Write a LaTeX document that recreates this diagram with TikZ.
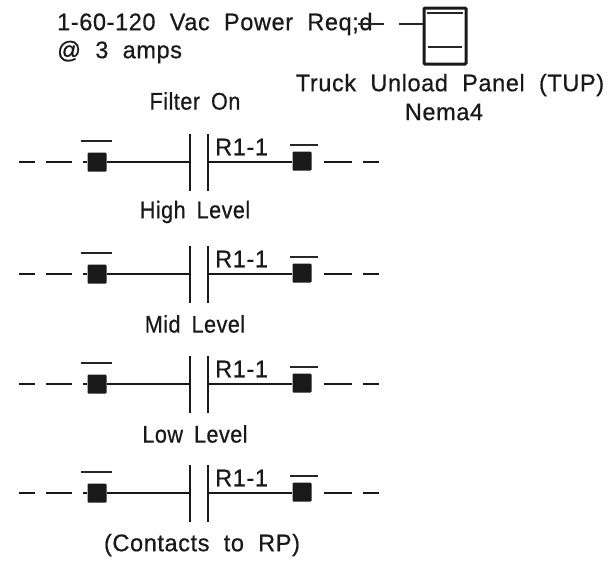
\documentclass[tikz,border=0pt]{standalone}
\usepackage{fontspec}
\setmainfont[FakeStretch=0.98,LetterSpace=2.5,WordSpace=2,FakeBold=0.6]{Liberation Sans}
\newfontfamily\narrowface[FakeStretch=0.9,LetterSpace=2,WordSpace=1.7,FakeBold=0.6]{Liberation Sans}
\tikzset{
  x=1pt,y=-1pt,
  lbl/.style={inner sep=0pt,font=\fontsize{24}{24}\selectfont,text=black!90},
  lvl/.style={inner sep=0pt,font=\narrowface\fontsize{24}{24}\selectfont,text=black!90},
  wire/.style={line width=1.9pt,black!90},
  thinw/.style={line width=1.3pt,black!85},
  plate/.style={line width=2.4pt,black!90},
  term/.style={fill=black!90,draw=none,rounded corners=1pt,minimum width=19pt,minimum height=19pt,inner sep=0pt},
}
\begin{document}
\begin{tikzpicture}
\useasboundingbox (0,0) rectangle (608,571);
\node[lbl,anchor=west] (power) at (57,24) {1-60-120 Vac Power Req;d};
\node[lbl,anchor=west] (amps) at (57,52) {@ 3 amps};
\node[lbl] (tup) at (450,85) {Truck Unload Panel (TUP)};
\node[lbl] (nema) at (444,112) {Nema4};
\node[lvl] (filter) at (195,101) {Filter On};
\node[lvl] (high) at (195,212) {High Level};
\node[lvl] (mid) at (195,324) {Mid Level};
\node[lvl] (low) at (195,434) {Low Level};
\node[lbl] (contacts) at (202,545) {(Contacts to RP)};
% panel
\node[draw=black!90,line width=3pt,minimum width=42pt,minimum height=56pt,inner sep=0pt,rounded corners=1pt] (panel) at (445,36) {};
\draw[thinw] (427,13) -- (463,13);
\draw[thinw] (428,47) -- (462,47);
\coordinate (pa) at (358,24);
\draw[thinw,dash pattern=on 26pt off 15pt] (pa) -- (panel.west |- pa);
% contact rows
\foreach \n/\y in {a/162,b/274,c/384,d/493}{
  \node[term] (l\n) at (97,\y) {};
  \node[term] (r\n) at (302,\y-1) {};
  \coordinate (pl\n) at (190,\y);
  \coordinate (pr\n) at (208,\y);
  \draw[wire] (l\n) -- (pl\n);
  \draw[wire] (pr\n) -- (r\n.west |- pr\n);
  \draw[plate] (190,\y-28) -- (190,\y+29);
  \draw[plate] (208,\y-28) -- (208,\y+29);
  \node[lbl,anchor=west] (t\n) at (215,\y-15) {R1-1};
  \coordinate (la\n) at (19,\y);
  \coordinate (ra\n) at (381,\y);
  \draw[wire,dash pattern=on 16pt off 11pt on 26pt off 11pt on 8pt off 100pt] (la\n) -- (l\n);
  \draw[wire,dash pattern=on 28pt off 11pt on 16pt off 100pt] (r\n.east |- ra\n) ++(12,0) -- (ra\n);
  \draw[thinw] (81,\y-21) -- (112,\y-21);
  \draw[thinw] (290,\y-17) -- (318,\y-17);
}
\end{tikzpicture}
\end{document}
